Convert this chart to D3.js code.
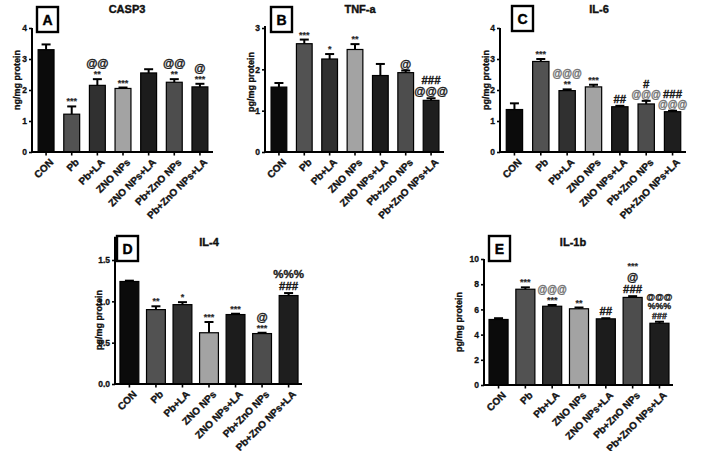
<!DOCTYPE html>
<html><head><meta charset="utf-8">
<script src="https://cdn.jsdelivr.net/npm/d3@7"></script>
<style>
html,body{margin:0;padding:0;background:#fff;}
svg{display:block;font-family:"Liberation Sans",Arial,Helvetica,sans-serif;}
</style></head>
<body>
<svg id="chart" width="708" height="451"></svg>
<script>
const categories = ["CON","Pb","Pb+LA","ZNO NPs","ZNO NPs+LA","Pb+ZnO NPs","Pb+ZnO NPs+LA"];
const barFills = ["#0b0b0b","#525252","#303030","#a3a3a3","#1c1c1c","#4d4d4d","#1e1e1e"];

const casp3Mean = [3.3,1.22,2.15,2.05,2.55,2.25,2.1];
const casp3Err  = [0.17,0.25,0.2,0.03,0.12,0.1,0.1];
const casp3Marks = [[],["***"],["**","@@"],["***"],[],["**","@@"],["***","@"]];
const casp3Ticks = [0,1,2,3,4];

const tnfMean = [1.57,2.62,2.25,2.48,1.85,1.92,1.25];
const tnfErr  = [0.1,0.1,0.12,0.13,0.28,0.05,0.05];
const tnfMarks = [[],["***"],["*"],["**"],[],["@"],["@@@","###"]];
const tnfTicks = [0,1,2,3];

const il6Mean = [1.37,2.92,1.98,2.1,1.46,1.55,1.3];
const il6Err  = [0.2,0.08,0.04,0.07,0.03,0.1,0.03];
const il6Marks = [[],["***"],["**","@@@"],["***"],["##"],["@@@","#"],["@@@","###"]];
const il6Ticks = [0,1,2,3,4];

const il4Mean = [1.24,0.9,0.96,0.62,0.84,0.61,1.07];
const il4Err  = [0.01,0.04,0.03,0.13,0.01,0.01,0.03];
const il4Marks = [[],["**"],["*"],["***"],["***"],["***","@"],["###","%%%"]];
const il4Ticks = [0,0.5,1.0,1.5];

const il1bMean = [5.2,7.6,6.25,6.05,5.25,6.95,4.9];
const il1bErr  = [0.1,0.15,0.1,0.1,0.05,0.1,0.12];
const il1bMarks = [[],["***"],["***","@@@"],["**"],["##"],["###","@","***"],["###","%%%","@@@"]];
const il1bTicks = [0,2,4,6,8,10];

const svg = d3.select("#chart");

function boldText(sel, w){
  return sel.attr("font-weight","bold").attr("stroke", sel.attr("fill") || "#111")
    .attr("stroke-width", w).attr("paint-order","stroke");
}

function drawPanel(p){
  const g = svg.append("g");
  const x = d3.scaleBand().domain(categories).range([p.x0+1, p.x1]).paddingInner(p.padIn).paddingOuter(p.padOut);
  const y = d3.scaleLinear().domain([0, p.yMax]).range([p.yBottom, p.yTop]);

  g.selectAll("rect.bar").data(p.mean).join("rect")
    .attr("class","bar")
    .attr("x",(d,i)=>x(categories[i]))
    .attr("y",d=>y(d))
    .attr("width",x.bandwidth())
    .attr("height",d=>y(0)-y(d))
    .attr("fill",(d,i)=>barFills[i])
    .attr("stroke","#000").attr("stroke-width",1.2);

  p.mean.forEach((m,i)=>{
    const cx = x(categories[i]) + x.bandwidth()/2;
    const top = y(m + p.err[i]);
    g.append("line").attr("x1",cx).attr("x2",cx).attr("y1",y(m)).attr("y2",top)
      .attr("stroke","#000").attr("stroke-width",2);
    g.append("line").attr("x1",cx-4.5).attr("x2",cx+4.5).attr("y1",top).attr("y2",top)
      .attr("stroke","#000").attr("stroke-width",2);
    const tight = p.tightIdx === i;
    let cur = top - 2;
    p.marks[i].forEach((mk,k)=>{
      const star = mk[0]==="*";
      const grayAt = mk[0]==="@" && (p.grayAll || p.grayIdx === i);
      let fs = star ? 9 : (grayAt ? 10 : (tight ? 8.8 : 11.5));
      if (!star && k===0) cur -= 1;
      const col = grayAt ? "#727272" : (star ? "#2a2a2a" : "#1a1a1a");
      const t = g.append("text").attr("x",cx).attr("y",cur)
        .attr("text-anchor","middle")
        .attr("font-size",fs).attr("fill", col)
        .text(mk);
      boldText(t, star ? 0.2 : 0.35);
      cur -= star ? 10 : (tight ? 9.5 : (grayAt ? 10 : p.step));
    });
  });

  const yAxis = d3.axisLeft(y).tickValues(p.ticks).tickSize(3).tickPadding(2)
    .tickFormat(p.fmt);
  const ya = g.append("g").attr("transform",`translate(${p.x0},0)`).call(yAxis);
  ya.select(".domain").remove();
  ya.selectAll(".tick line").attr("stroke","#000").attr("stroke-width",1.6);
  ya.selectAll(".tick text").attr("font-size",8.5).attr("fill","#111")
    .attr("font-weight","bold").attr("stroke","#111").attr("stroke-width",0.3);
  g.append("line").attr("x1",p.x0).attr("x2",p.x0).attr("y1",p.yBottom+1).attr("y2",y(p.axisTop))
    .attr("stroke","#000").attr("stroke-width",2);

  g.append("line").attr("x1",p.x0-1).attr("x2",p.x1).attr("y1",p.yBottom).attr("y2",p.yBottom)
    .attr("stroke","#000").attr("stroke-width",2);
  categories.forEach((c,i)=>{
    const cx = x(c)+x.bandwidth()/2;
    g.append("line").attr("x1",cx).attr("x2",cx).attr("y1",p.yBottom).attr("y2",p.yBottom+3.5)
      .attr("stroke","#000").attr("stroke-width",1.6);
    const t = g.append("text")
      .attr("transform",`translate(${cx+3},${p.yBottom+6}) rotate(-45)`)
      .attr("text-anchor","end").attr("dy","0.7em")
      .attr("font-size",10).attr("fill","#111")
      .text(c);
    boldText(t, 0.35);
  });

  const yl = g.append("text")
    .attr("transform",`translate(${p.ylx},${p.yly}) rotate(-90)`)
    .attr("text-anchor","middle").attr("font-size",9).attr("fill","#111")
    .text(p.ylabel);
  boldText(yl, 0.35);

  const tt = g.append("text").attr("x",p.tx).attr("y",p.ty).attr("text-anchor","middle")
    .attr("font-size",11).attr("fill","#111").text(p.title);
  boldText(tt, 0.4);

  g.append("rect").attr("x",p.bx).attr("y",p.by).attr("width",21).attr("height",25)
    .attr("fill","#fff").attr("stroke","#000").attr("stroke-width",2.4);
  const lt = g.append("text").attr("x",p.bx+10.5).attr("y",p.by+17.5).attr("text-anchor","middle")
    .attr("font-size",14).attr("fill","#000").text(p.letter);
  boldText(lt, 0.4);
}

const f0 = d3.format("d"), f1 = d3.format(".1f");

drawPanel({mean:casp3Mean, err:casp3Err, marks:casp3Marks, ticks:casp3Ticks, fmt:f0,
  title:"CASP3", letter:"A", ylabel:"ng/mg protein",
  x0:32, x1:213, padIn:0.38, padOut:0.2, yMax:4, yBottom:152, yTop:28, axisTop:4,
  ylx:20, yly:80, tx:127, ty:13, bx:37, by:7, step:11});

drawPanel({mean:tnfMean, err:tnfErr, marks:tnfMarks, ticks:tnfTicks, fmt:f0,
  title:"TNF-a", letter:"B", ylabel:"pg/mg protein",
  x0:265, x1:444, padIn:0.38, padOut:0.2, yMax:3, yBottom:152, yTop:28, axisTop:3.05,
  ylx:254, yly:82, tx:360, ty:13, bx:271, by:7, step:11});

drawPanel({mean:il6Mean, err:il6Err, marks:il6Marks, ticks:il6Ticks, fmt:f0, grayAll:true,
  title:"IL-6", letter:"C", ylabel:"pg/mg protein",
  x0:500, x1:686, padIn:0.38, padOut:0.2, yMax:4, yBottom:152, yTop:28, axisTop:4,
  ylx:489, yly:80, tx:599, ty:13, bx:512, by:6, step:10});

drawPanel({mean:il4Mean, err:il4Err, marks:il4Marks, ticks:il4Ticks, fmt:f1,
  title:"IL-4", letter:"D", ylabel:"pg/mg protein",
  x0:115, x1:302, padIn:0.29, padOut:0.15, yMax:1.5, yBottom:384, yTop:260, axisTop:1.78,
  ylx:102, yly:320, tx:209, ty:246, bx:117, by:236, step:12});

drawPanel({mean:il1bMean, err:il1bErr, marks:il1bMarks, ticks:il1bTicks, fmt:f0, grayIdx:2, tightIdx:6,
  title:"IL-1b", letter:"E", ylabel:"pg/mg protein",
  x0:484, x1:673, padIn:0.29, padOut:0.15, yMax:10, yBottom:385, yTop:259, axisTop:10,
  ylx:462, yly:322, tx:573, ty:246, bx:489, by:236, step:12});
</script>
</body></html>
